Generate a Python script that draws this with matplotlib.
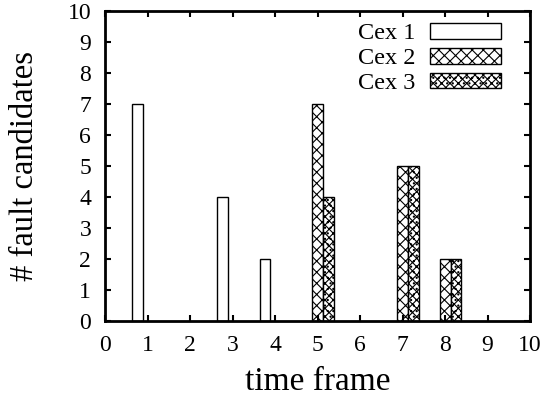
import matplotlib
matplotlib.use("Agg")
import matplotlib.pyplot as plt
import numpy as np

plt.rcParams["font.family"] = ["Liberation Serif", "DejaVu Serif"]
plt.rcParams["hatch.linewidth"] = 0.8

# dados
cex1_x = [1, 3, 4]
cex1_y = [7, 4, 2]
cex2_x = [5, 7, 8]
cex2_y = [7, 5, 2]
cex3_x = [5, 7, 8]
cex3_y = [4, 5, 2]

BAR_W = 0.25
# deslocamento da borda esquerda de cada série (estilo histograma do gnuplot)
OFFSETS = [-0.36, -0.12, 0.13]

fig = plt.figure(figsize=(5.47, 4.0), dpi=100)
ax = fig.add_axes([0.192, 0.1975, 0.777, 0.775])

ax.bar(np.array(cex1_x) + OFFSETS[0], cex1_y, width=BAR_W, align="edge",
       facecolor="white", edgecolor="black", linewidth=1.0, label="Cex 1")
ax.bar(np.array(cex2_x) + OFFSETS[1], cex2_y, width=BAR_W, align="edge",
       facecolor="white", edgecolor="black", linewidth=1.0, hatch="xxx", label="Cex 2")
ax.bar(np.array(cex3_x) + OFFSETS[2], cex3_y, width=BAR_W, align="edge",
       facecolor="white", edgecolor="black", linewidth=1.0, hatch="xxxx...", label="Cex 3")

ax.set_xlim(0, 10)
ax.set_ylim(0, 10)
ax.set_xticks(range(0, 11))
ax.set_yticks(range(0, 11))
ax.tick_params(direction="in", length=4, width=1.5, top=True, right=True,
               labelsize=17, pad=10)
for side in ax.spines.values():
    side.set_linewidth(2)

ax.set_xlabel("time frame", fontsize=24, labelpad=8)
ax.set_ylabel("# fault candidates", fontsize=23.5, labelpad=20)

leg = ax.legend(loc="upper right", fontsize=17.5, frameon=False, markerfirst=False,
                handlelength=2.9, handleheight=0.6, labelspacing=0.15,
                borderaxespad=0.1, handletextpad=0.6,
                bbox_to_anchor=(0.96, 1.0))

fig.savefig("out.png", dpi=100)
